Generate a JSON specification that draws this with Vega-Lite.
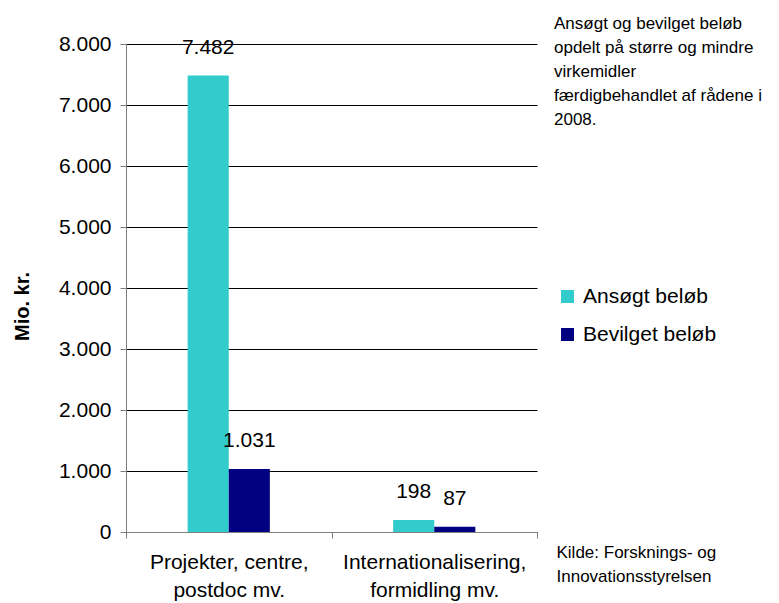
{
  "$schema": "https://vega.github.io/schema/vega-lite/v6.json",
  "width": 411,
  "height": 488,
  "autosize": {"type": "none"},
  "padding": {"left": 126, "top": 44, "right": 242, "bottom": 71},
  "background": "white",
  "title": {
    "text": ["Ansøgt og bevilget beløb", "opdelt på større og mindre", "virkemidler", "færdigbehandlet af rådene i", "2008."],
    "anchor": "end",
    "frame": "group",
    "align": "left",
    "baseline": "alphabetic",
    "dx": 17,
    "dy": 109,
    "offset": 0,
    "fontSize": 17,
    "fontWeight": "normal",
    "font": "Liberation Sans",
    "lineHeight": 24,
    "color": "black"
  },
  "data": {
    "values": [
      {"kategori": "Projekter, centre,|postdoc mv.", "serie": "Ansøgt beløb", "belob": 7482},
      {"kategori": "Projekter, centre,|postdoc mv.", "serie": "Bevilget beløb", "belob": 1031},
      {"kategori": "Internationalisering,|formidling mv.", "serie": "Ansøgt beløb", "belob": 198},
      {"kategori": "Internationalisering,|formidling mv.", "serie": "Bevilget beløb", "belob": 87}
    ]
  },
  "encoding": {
    "x": {
      "field": "kategori",
      "type": "nominal",
      "sort": null,
      "scale": {"paddingInner": 0, "paddingOuter": 0},
      "axis": {
        "title": ["Kilde: Forsknings- og", "Innovationsstyrelsen"],
        "titleX": 430,
        "titleY": 25,
        "titleAlign": "left",
        "titleBaseline": "alphabetic",
        "titleFontSize": 17,
        "titleFontWeight": "normal",
        "titleLineHeight": 24.5,
        "labelExpr": "split(datum.label, '|')",
        "labelAngle": 0,
        "labelFontSize": 21,
        "labelLineHeight": 28,
        "labelPadding": 13,
        "labelBaseline": "top",
        "labelLimit": 400,
        "tickSize": 6,
        "tickBand": "extent",
        "tickColor": "#808080",
        "domainColor": "#808080"
      }
    },
    "xOffset": {
      "field": "serie",
      "type": "nominal",
      "scale": {"domain": ["_a", "Ansøgt beløb", "Bevilget beløb", "_b"], "paddingInner": 0, "paddingOuter": 0.5}
    },
    "y": {
      "field": "belob",
      "type": "quantitative",
      "scale": {"domain": [0, 8000], "nice": false},
      "axis": {
        "title": "Mio. kr.",
        "titleAngle": -90,
        "titleX": -104,
        "titleY": 262,
        "titleAlign": "center",
        "titleBaseline": "middle",
        "titleFontSize": 20,
        "titleFontWeight": "bold",
        "values": [0, 1000, 2000, 3000, 4000, 5000, 6000, 7000, 8000],
        "format": ",d",
        "labelFontSize": 21,
        "labelPadding": 9,
        "tickSize": 6,
        "tickColor": "#808080",
        "domainColor": "#808080",
        "grid": true,
        "gridColor": "#000000",
        "gridOpacity": 1
      }
    }
  },
  "layer": [
    {
      "mark": {"type": "bar"},
      "encoding": {
        "color": {
          "field": "serie",
          "type": "nominal",
          "scale": {"domain": ["Ansøgt beløb", "Bevilget beløb"], "range": ["#33CCCC", "#000080"]},
          "legend": {
            "title": null,
            "orient": "none",
            "legendX": 431,
            "legendY": 242,
            "symbolType": "square",
            "symbolSize": 169,
            "symbolStrokeWidth": 0,
            "labelFontSize": 21,
            "rowPadding": 16,
            "labelOffset": 5
          }
        }
      }
    },
    {
      "mark": {"type": "text", "dy": -28, "baseline": "middle", "fontSize": 21, "color": "black"},
      "encoding": {
        "text": {"field": "belob", "type": "quantitative", "format": ",d"}
      }
    }
  ],
  "config": {
    "locale": {"number": {"decimal": ",", "thousands": ".", "grouping": [3], "currency": ["", " kr."]}},
    "font": "Liberation Sans",
    "view": {"stroke": null},
    "axis": {"labelColor": "black", "titleColor": "black", "labelFont": "Liberation Sans", "titleFont": "Liberation Sans"},
    "legend": {"labelColor": "black", "labelFont": "Liberation Sans"}
  }
}
